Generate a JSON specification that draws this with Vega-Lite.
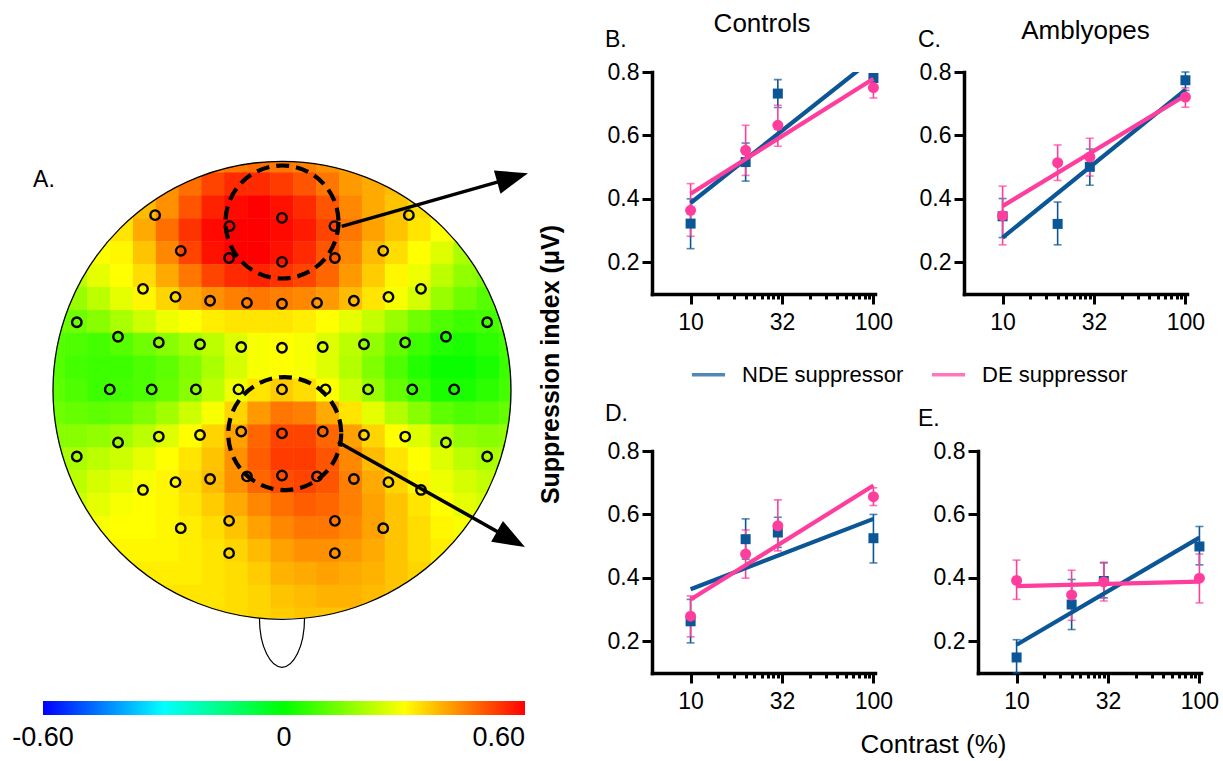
{
"$schema": "https://vega.github.io/schema/vega-lite/v6.json",
"padding": {"left": -28, "top": 11, "right": 0, "bottom": 0},
"config": {
  "view": {"stroke": null},
  "font": "Liberation Sans",
  "axis": {"domainColor": "black", "domainWidth": 3.5, "tickColor": "black", "tickWidth": 3, "tickSize": 10, "labelFontSize": 23, "labelColor": "black", "labelFont": "Liberation Sans", "grid": false, "titleFont": "Liberation Sans", "titleColor": "black", "domainCap": "square"},
  "axisX": {"labelPadding": 7},
  "axisY": {"labelPadding": 3},
  "legend": {"labelFont": "Liberation Sans", "labelColor": "black"}
},
"datasets": {
  "heat": [
{"u":-0.3,"v":1,"z":0.44},{"u":-0.2,"v":1,"z":0.46},{"u":-0.1,"v":1,"z":0.47},{"u":0,"v":1,"z":0.46},{"u":0.1,"v":1,"z":0.45},{"u":0.2,"v":1,"z":0.43},{"u":0.3,"v":1,"z":0.41},
{"u":-0.5,"v":0.9,"z":0.43},{"u":-0.4,"v":0.9,"z":0.47},{"u":-0.3,"v":0.9,"z":0.52},{"u":-0.2,"v":0.9,"z":0.55},{"u":-0.1,"v":0.9,"z":0.55},{"u":0,"v":0.9,"z":0.53},{"u":0.1,"v":0.9,"z":0.5},{"u":0.2,"v":0.9,"z":0.46},{"u":0.3,"v":0.9,"z":0.42},{"u":0.4,"v":0.9,"z":0.4},{"u":0.5,"v":0.9,"z":0.38},
{"u":-0.6,"v":0.8,"z":0.38},{"u":-0.5,"v":0.8,"z":0.43},{"u":-0.4,"v":0.8,"z":0.5},{"u":-0.3,"v":0.8,"z":0.56},{"u":-0.2,"v":0.8,"z":0.59},{"u":-0.1,"v":0.8,"z":0.6},{"u":0,"v":0.8,"z":0.58},{"u":0.1,"v":0.8,"z":0.55},{"u":0.2,"v":0.8,"z":0.5},{"u":0.3,"v":0.8,"z":0.44},{"u":0.4,"v":0.8,"z":0.4},{"u":0.5,"v":0.8,"z":0.37},{"u":0.6,"v":0.8,"z":0.34},
{"u":-0.7,"v":0.7,"z":0.33},{"u":-0.6,"v":0.7,"z":0.4},{"u":-0.5,"v":0.7,"z":0.47},{"u":-0.4,"v":0.7,"z":0.54},{"u":-0.3,"v":0.7,"z":0.59},{"u":-0.2,"v":0.7,"z":0.6},{"u":-0.1,"v":0.7,"z":0.6},{"u":0,"v":0.7,"z":0.59},{"u":0.1,"v":0.7,"z":0.57},{"u":0.2,"v":0.7,"z":0.52},{"u":0.3,"v":0.7,"z":0.46},{"u":0.4,"v":0.7,"z":0.41},{"u":0.5,"v":0.7,"z":0.37},{"u":0.6,"v":0.7,"z":0.33},{"u":0.7,"v":0.7,"z":0.3},
{"u":-0.8,"v":0.6,"z":0.3},{"u":-0.7,"v":0.6,"z":0.31},{"u":-0.6,"v":0.6,"z":0.37},{"u":-0.5,"v":0.6,"z":0.44},{"u":-0.4,"v":0.6,"z":0.52},{"u":-0.3,"v":0.6,"z":0.58},{"u":-0.2,"v":0.6,"z":0.6},{"u":-0.1,"v":0.6,"z":0.6},{"u":0,"v":0.6,"z":0.58},{"u":0.1,"v":0.6,"z":0.55},{"u":0.2,"v":0.6,"z":0.5},{"u":0.3,"v":0.6,"z":0.44},{"u":0.4,"v":0.6,"z":0.38},{"u":0.5,"v":0.6,"z":0.34},{"u":0.6,"v":0.6,"z":0.3},{"u":0.7,"v":0.6,"z":0.26},{"u":0.8,"v":0.6,"z":0.2},
{"u":-0.9,"v":0.5,"z":0.22},{"u":-0.8,"v":0.5,"z":0.27},{"u":-0.7,"v":0.5,"z":0.3},{"u":-0.6,"v":0.5,"z":0.34},{"u":-0.5,"v":0.5,"z":0.4},{"u":-0.4,"v":0.5,"z":0.46},{"u":-0.3,"v":0.5,"z":0.52},{"u":-0.2,"v":0.5,"z":0.55},{"u":-0.1,"v":0.5,"z":0.56},{"u":0,"v":0.5,"z":0.54},{"u":0.1,"v":0.5,"z":0.52},{"u":0.2,"v":0.5,"z":0.48},{"u":0.3,"v":0.5,"z":0.42},{"u":0.4,"v":0.5,"z":0.36},{"u":0.5,"v":0.5,"z":0.31},{"u":0.6,"v":0.5,"z":0.28},{"u":0.7,"v":0.5,"z":0.22},{"u":0.8,"v":0.5,"z":0.17},{"u":0.9,"v":0.5,"z":0.14},
{"u":-0.9,"v":0.4,"z":0.18},{"u":-0.8,"v":0.4,"z":0.22},{"u":-0.7,"v":0.4,"z":0.27},{"u":-0.6,"v":0.4,"z":0.31},{"u":-0.5,"v":0.4,"z":0.35},{"u":-0.4,"v":0.4,"z":0.4},{"u":-0.3,"v":0.4,"z":0.43},{"u":-0.2,"v":0.4,"z":0.45},{"u":-0.1,"v":0.4,"z":0.46},{"u":0,"v":0.4,"z":0.45},{"u":0.1,"v":0.4,"z":0.44},{"u":0.2,"v":0.4,"z":0.42},{"u":0.3,"v":0.4,"z":0.38},{"u":0.4,"v":0.4,"z":0.33},{"u":0.5,"v":0.4,"z":0.29},{"u":0.6,"v":0.4,"z":0.25},{"u":0.7,"v":0.4,"z":0.18},{"u":0.8,"v":0.4,"z":0.13},{"u":0.9,"v":0.4,"z":0.1},
{"u":-1,"v":0.3,"z":0.12},{"u":-0.9,"v":0.3,"z":0.13},{"u":-0.8,"v":0.3,"z":0.16},{"u":-0.7,"v":0.3,"z":0.2},{"u":-0.6,"v":0.3,"z":0.24},{"u":-0.5,"v":0.3,"z":0.28},{"u":-0.4,"v":0.3,"z":0.3},{"u":-0.3,"v":0.3,"z":0.32},{"u":-0.2,"v":0.3,"z":0.33},{"u":-0.1,"v":0.3,"z":0.33},{"u":0,"v":0.3,"z":0.33},{"u":0.1,"v":0.3,"z":0.32},{"u":0.2,"v":0.3,"z":0.3},{"u":0.3,"v":0.3,"z":0.27},{"u":0.4,"v":0.3,"z":0.23},{"u":0.5,"v":0.3,"z":0.18},{"u":0.6,"v":0.3,"z":0.13},{"u":0.7,"v":0.3,"z":0.09},{"u":0.8,"v":0.3,"z":0.07},{"u":0.9,"v":0.3,"z":0.08},{"u":1,"v":0.3,"z":0.1},
{"u":-1,"v":0.2,"z":0.1},{"u":-0.9,"v":0.2,"z":0.09},{"u":-0.8,"v":0.2,"z":0.08},{"u":-0.7,"v":0.2,"z":0.1},{"u":-0.6,"v":0.2,"z":0.13},{"u":-0.5,"v":0.2,"z":0.16},{"u":-0.4,"v":0.2,"z":0.19},{"u":-0.3,"v":0.2,"z":0.22},{"u":-0.2,"v":0.2,"z":0.26},{"u":-0.1,"v":0.2,"z":0.29},{"u":0,"v":0.2,"z":0.3},{"u":0.1,"v":0.2,"z":0.29},{"u":0.2,"v":0.2,"z":0.26},{"u":0.3,"v":0.2,"z":0.22},{"u":0.4,"v":0.2,"z":0.17},{"u":0.5,"v":0.2,"z":0.12},{"u":0.6,"v":0.2,"z":0.07},{"u":0.7,"v":0.2,"z":0.04},{"u":0.8,"v":0.2,"z":0.03},{"u":0.9,"v":0.2,"z":0.05},{"u":1,"v":0.2,"z":0.08},
{"u":-1,"v":0.1,"z":0.1},{"u":-0.9,"v":0.1,"z":0.08},{"u":-0.8,"v":0.1,"z":0.07},{"u":-0.7,"v":0.1,"z":0.07},{"u":-0.6,"v":0.1,"z":0.09},{"u":-0.5,"v":0.1,"z":0.11},{"u":-0.4,"v":0.1,"z":0.15},{"u":-0.3,"v":0.1,"z":0.2},{"u":-0.2,"v":0.1,"z":0.25},{"u":-0.1,"v":0.1,"z":0.29},{"u":0,"v":0.1,"z":0.3},{"u":0.1,"v":0.1,"z":0.29},{"u":0.2,"v":0.1,"z":0.26},{"u":0.3,"v":0.1,"z":0.21},{"u":0.4,"v":0.1,"z":0.15},{"u":0.5,"v":0.1,"z":0.09},{"u":0.6,"v":0.1,"z":0.04},{"u":0.7,"v":0.1,"z":0.01},{"u":0.8,"v":0.1,"z":0.01},{"u":0.9,"v":0.1,"z":0.03},{"u":1,"v":0.1,"z":0.07},
{"u":-1,"v":0,"z":0.11},{"u":-0.9,"v":0,"z":0.09},{"u":-0.8,"v":0,"z":0.07},{"u":-0.7,"v":0,"z":0.08},{"u":-0.6,"v":0,"z":0.09},{"u":-0.5,"v":0,"z":0.12},{"u":-0.4,"v":0,"z":0.16},{"u":-0.3,"v":0,"z":0.22},{"u":-0.2,"v":0,"z":0.28},{"u":-0.1,"v":0,"z":0.33},{"u":0,"v":0,"z":0.36},{"u":0.1,"v":0,"z":0.34},{"u":0.2,"v":0,"z":0.3},{"u":0.3,"v":0,"z":0.24},{"u":0.4,"v":0,"z":0.18},{"u":0.5,"v":0,"z":0.12},{"u":0.6,"v":0,"z":0.07},{"u":0.7,"v":0,"z":0.03},{"u":0.8,"v":0,"z":0.03},{"u":0.9,"v":0,"z":0.05},{"u":1,"v":0,"z":0.08},
{"u":-1,"v":-0.1,"z":0.13},{"u":-0.9,"v":-0.1,"z":0.12},{"u":-0.8,"v":-0.1,"z":0.11},{"u":-0.7,"v":-0.1,"z":0.12},{"u":-0.6,"v":-0.1,"z":0.15},{"u":-0.5,"v":-0.1,"z":0.19},{"u":-0.4,"v":-0.1,"z":0.24},{"u":-0.3,"v":-0.1,"z":0.29},{"u":-0.2,"v":-0.1,"z":0.35},{"u":-0.1,"v":-0.1,"z":0.42},{"u":0,"v":-0.1,"z":0.46},{"u":0.1,"v":-0.1,"z":0.45},{"u":0.2,"v":-0.1,"z":0.4},{"u":0.3,"v":-0.1,"z":0.33},{"u":0.4,"v":-0.1,"z":0.27},{"u":0.5,"v":-0.1,"z":0.21},{"u":0.6,"v":-0.1,"z":0.16},{"u":0.7,"v":-0.1,"z":0.11},{"u":0.8,"v":-0.1,"z":0.09},{"u":0.9,"v":-0.1,"z":0.1},{"u":1,"v":-0.1,"z":0.12},
{"u":-1,"v":-0.2,"z":0.16},{"u":-0.9,"v":-0.2,"z":0.16},{"u":-0.8,"v":-0.2,"z":0.17},{"u":-0.7,"v":-0.2,"z":0.19},{"u":-0.6,"v":-0.2,"z":0.22},{"u":-0.5,"v":-0.2,"z":0.26},{"u":-0.4,"v":-0.2,"z":0.3},{"u":-0.3,"v":-0.2,"z":0.35},{"u":-0.2,"v":-0.2,"z":0.41},{"u":-0.1,"v":-0.2,"z":0.48},{"u":0,"v":-0.2,"z":0.52},{"u":0.1,"v":-0.2,"z":0.52},{"u":0.2,"v":-0.2,"z":0.48},{"u":0.3,"v":-0.2,"z":0.41},{"u":0.4,"v":-0.2,"z":0.35},{"u":0.5,"v":-0.2,"z":0.3},{"u":0.6,"v":-0.2,"z":0.26},{"u":0.7,"v":-0.2,"z":0.21},{"u":0.8,"v":-0.2,"z":0.17},{"u":0.9,"v":-0.2,"z":0.16},{"u":1,"v":-0.2,"z":0.17},
{"u":-1,"v":-0.3,"z":0.19},{"u":-0.9,"v":-0.3,"z":0.2},{"u":-0.8,"v":-0.3,"z":0.22},{"u":-0.7,"v":-0.3,"z":0.24},{"u":-0.6,"v":-0.3,"z":0.27},{"u":-0.5,"v":-0.3,"z":0.3},{"u":-0.4,"v":-0.3,"z":0.33},{"u":-0.3,"v":-0.3,"z":0.37},{"u":-0.2,"v":-0.3,"z":0.43},{"u":-0.1,"v":-0.3,"z":0.49},{"u":0,"v":-0.3,"z":0.53},{"u":0.1,"v":-0.3,"z":0.53},{"u":0.2,"v":-0.3,"z":0.5},{"u":0.3,"v":-0.3,"z":0.44},{"u":0.4,"v":-0.3,"z":0.38},{"u":0.5,"v":-0.3,"z":0.33},{"u":0.6,"v":-0.3,"z":0.3},{"u":0.7,"v":-0.3,"z":0.26},{"u":0.8,"v":-0.3,"z":0.22},{"u":0.9,"v":-0.3,"z":0.2},{"u":1,"v":-0.3,"z":0.2},
{"u":-0.9,"v":-0.4,"z":0.22},{"u":-0.8,"v":-0.4,"z":0.25},{"u":-0.7,"v":-0.4,"z":0.27},{"u":-0.6,"v":-0.4,"z":0.29},{"u":-0.5,"v":-0.4,"z":0.31},{"u":-0.4,"v":-0.4,"z":0.34},{"u":-0.3,"v":-0.4,"z":0.38},{"u":-0.2,"v":-0.4,"z":0.43},{"u":-0.1,"v":-0.4,"z":0.48},{"u":0,"v":-0.4,"z":0.51},{"u":0.1,"v":-0.4,"z":0.52},{"u":0.2,"v":-0.4,"z":0.5},{"u":0.3,"v":-0.4,"z":0.45},{"u":0.4,"v":-0.4,"z":0.4},{"u":0.5,"v":-0.4,"z":0.35},{"u":0.6,"v":-0.4,"z":0.31},{"u":0.7,"v":-0.4,"z":0.28},{"u":0.8,"v":-0.4,"z":0.25},{"u":0.9,"v":-0.4,"z":0.23},
{"u":-0.9,"v":-0.5,"z":0.24},{"u":-0.8,"v":-0.5,"z":0.27},{"u":-0.7,"v":-0.5,"z":0.29},{"u":-0.6,"v":-0.5,"z":0.3},{"u":-0.5,"v":-0.5,"z":0.31},{"u":-0.4,"v":-0.5,"z":0.33},{"u":-0.3,"v":-0.5,"z":0.36},{"u":-0.2,"v":-0.5,"z":0.4},{"u":-0.1,"v":-0.5,"z":0.44},{"u":0,"v":-0.5,"z":0.47},{"u":0.1,"v":-0.5,"z":0.49},{"u":0.2,"v":-0.5,"z":0.48},{"u":0.3,"v":-0.5,"z":0.45},{"u":0.4,"v":-0.5,"z":0.41},{"u":0.5,"v":-0.5,"z":0.37},{"u":0.6,"v":-0.5,"z":0.33},{"u":0.7,"v":-0.5,"z":0.3},{"u":0.8,"v":-0.5,"z":0.27},{"u":0.9,"v":-0.5,"z":0.25},
{"u":-0.8,"v":-0.6,"z":0.29},{"u":-0.7,"v":-0.6,"z":0.3},{"u":-0.6,"v":-0.6,"z":0.3},{"u":-0.5,"v":-0.6,"z":0.31},{"u":-0.4,"v":-0.6,"z":0.32},{"u":-0.3,"v":-0.6,"z":0.34},{"u":-0.2,"v":-0.6,"z":0.37},{"u":-0.1,"v":-0.6,"z":0.41},{"u":0,"v":-0.6,"z":0.44},{"u":0.1,"v":-0.6,"z":0.46},{"u":0.2,"v":-0.6,"z":0.46},{"u":0.3,"v":-0.6,"z":0.44},{"u":0.4,"v":-0.6,"z":0.41},{"u":0.5,"v":-0.6,"z":0.37},{"u":0.6,"v":-0.6,"z":0.34},{"u":0.7,"v":-0.6,"z":0.31},{"u":0.8,"v":-0.6,"z":0.29},
{"u":-0.7,"v":-0.7,"z":0.31},{"u":-0.6,"v":-0.7,"z":0.31},{"u":-0.5,"v":-0.7,"z":0.31},{"u":-0.4,"v":-0.7,"z":0.32},{"u":-0.3,"v":-0.7,"z":0.33},{"u":-0.2,"v":-0.7,"z":0.35},{"u":-0.1,"v":-0.7,"z":0.38},{"u":0,"v":-0.7,"z":0.41},{"u":0.1,"v":-0.7,"z":0.43},{"u":0.2,"v":-0.7,"z":0.43},{"u":0.3,"v":-0.7,"z":0.42},{"u":0.4,"v":-0.7,"z":0.4},{"u":0.5,"v":-0.7,"z":0.37},{"u":0.6,"v":-0.7,"z":0.34},{"u":0.7,"v":-0.7,"z":0.32},
{"u":-0.6,"v":-0.8,"z":0.32},{"u":-0.5,"v":-0.8,"z":0.32},{"u":-0.4,"v":-0.8,"z":0.32},{"u":-0.3,"v":-0.8,"z":0.33},{"u":-0.2,"v":-0.8,"z":0.34},{"u":-0.1,"v":-0.8,"z":0.36},{"u":0,"v":-0.8,"z":0.39},{"u":0.1,"v":-0.8,"z":0.4},{"u":0.2,"v":-0.8,"z":0.41},{"u":0.3,"v":-0.8,"z":0.4},{"u":0.4,"v":-0.8,"z":0.39},{"u":0.5,"v":-0.8,"z":0.37},{"u":0.6,"v":-0.8,"z":0.35},
{"u":-0.5,"v":-0.9,"z":0.33},{"u":-0.4,"v":-0.9,"z":0.33},{"u":-0.3,"v":-0.9,"z":0.33},{"u":-0.2,"v":-0.9,"z":0.34},{"u":-0.1,"v":-0.9,"z":0.35},{"u":0,"v":-0.9,"z":0.37},{"u":0.1,"v":-0.9,"z":0.38},{"u":0.2,"v":-0.9,"z":0.39},{"u":0.3,"v":-0.9,"z":0.39},{"u":0.4,"v":-0.9,"z":0.38},{"u":0.5,"v":-0.9,"z":0.37},
{"u":-0.3,"v":-1,"z":0.34},{"u":-0.2,"v":-1,"z":0.34},{"u":-0.1,"v":-1,"z":0.35},{"u":0,"v":-1,"z":0.36},{"u":0.1,"v":-1,"z":0.37},{"u":0.2,"v":-1,"z":0.37},{"u":0.3,"v":-1,"z":0.37}
  ],
  "elec": [
{"u":-0.554,"v":0.765},{"u":0.554,"v":0.765},{"u":0,"v":0.753},{"u":-0.229,"v":0.717},{"u":0.229,"v":0.717},
{"u":-0.442,"v":0.609},{"u":0.442,"v":0.609},{"u":-0.231,"v":0.578},{"u":0,"v":0.561},{"u":0.231,"v":0.578},
{"u":-0.607,"v":0.443},{"u":-0.465,"v":0.408},{"u":-0.314,"v":0.391},{"u":-0.153,"v":0.382},{"u":0,"v":0.378},{"u":0.153,"v":0.382},{"u":0.314,"v":0.391},{"u":0.465,"v":0.408},{"u":0.607,"v":0.443},
{"u":-0.896,"v":0.297},{"u":-0.716,"v":0.234},{"u":-0.538,"v":0.209},{"u":-0.358,"v":0.201},{"u":-0.178,"v":0.189},{"u":0,"v":0.186},{"u":0.178,"v":0.189},{"u":0.358,"v":0.201},{"u":0.538,"v":0.209},{"u":0.716,"v":0.234},{"u":0.896,"v":0.297},
{"u":-0.752,"v":0.004},{"u":-0.569,"v":0.004},{"u":-0.376,"v":0.004},{"u":-0.19,"v":0.004},{"u":0,"v":0.004},{"u":0.19,"v":0.004},{"u":0.376,"v":0.004},{"u":0.569,"v":0.004},{"u":0.752,"v":0.004},
{"u":-0.896,"v":-0.289},{"u":-0.716,"v":-0.228},{"u":-0.538,"v":-0.202},{"u":-0.358,"v":-0.195},{"u":-0.178,"v":-0.18},{"u":0,"v":-0.188},{"u":0.178,"v":-0.18},{"u":0.358,"v":-0.195},{"u":0.538,"v":-0.202},{"u":0.716,"v":-0.228},{"u":0.896,"v":-0.289},
{"u":-0.607,"v":-0.435},{"u":-0.465,"v":-0.401},{"u":-0.314,"v":-0.387},{"u":-0.153,"v":-0.376},{"u":0,"v":-0.372},{"u":0.153,"v":-0.376},{"u":0.314,"v":-0.387},{"u":0.465,"v":-0.401},{"u":0.607,"v":-0.435},
{"u":-0.442,"v":-0.602},{"u":-0.231,"v":-0.57},{"u":0.231,"v":-0.57},{"u":0.442,"v":-0.602},
{"u":-0.231,"v":-0.711},{"u":0.231,"v":-0.711}
  ],
  "pts": [
{"p":"B","g":"NDE suppressor","c":10,"m":0.322,"lo":0.243,"hi":0.4},
{"p":"B","g":"NDE suppressor","c":20,"m":0.516,"lo":0.456,"hi":0.576},
{"p":"B","g":"NDE suppressor","c":30,"m":0.732,"lo":0.688,"hi":0.776},
{"p":"B","g":"NDE suppressor","c":100,"m":0.781,"lo":0.768,"hi":0.794},
{"p":"B","g":"DE suppressor","c":10,"m":0.364,"lo":0.282,"hi":0.448},
{"p":"B","g":"DE suppressor","c":20,"m":0.553,"lo":0.474,"hi":0.632},
{"p":"B","g":"DE suppressor","c":30,"m":0.632,"lo":0.566,"hi":0.695},
{"p":"B","g":"DE suppressor","c":100,"m":0.751,"lo":0.718,"hi":0.779},
{"p":"C","g":"NDE suppressor","c":10,"m":0.345,"lo":0.278,"hi":0.401},
{"p":"C","g":"NDE suppressor","c":20,"m":0.321,"lo":0.255,"hi":0.39},
{"p":"C","g":"NDE suppressor","c":30,"m":0.501,"lo":0.443,"hi":0.557},
{"p":"C","g":"NDE suppressor","c":100,"m":0.774,"lo":0.742,"hi":0.8},
{"p":"C","g":"DE suppressor","c":10,"m":0.347,"lo":0.255,"hi":0.44},
{"p":"C","g":"DE suppressor","c":20,"m":0.514,"lo":0.458,"hi":0.57},
{"p":"C","g":"DE suppressor","c":30,"m":0.532,"lo":0.472,"hi":0.591},
{"p":"C","g":"DE suppressor","c":100,"m":0.721,"lo":0.689,"hi":0.75},
{"p":"D","g":"NDE suppressor","c":10,"m":0.263,"lo":0.195,"hi":0.332},
{"p":"D","g":"NDE suppressor","c":20,"m":0.522,"lo":0.459,"hi":0.586},
{"p":"D","g":"NDE suppressor","c":30,"m":0.543,"lo":0.496,"hi":0.591},
{"p":"D","g":"NDE suppressor","c":100,"m":0.525,"lo":0.447,"hi":0.6},
{"p":"D","g":"DE suppressor","c":10,"m":0.279,"lo":0.214,"hi":0.343},
{"p":"D","g":"DE suppressor","c":20,"m":0.475,"lo":0.399,"hi":0.551},
{"p":"D","g":"DE suppressor","c":30,"m":0.564,"lo":0.485,"hi":0.646},
{"p":"D","g":"DE suppressor","c":100,"m":0.656,"lo":0.628,"hi":0.684},
{"p":"E","g":"NDE suppressor","c":10,"m":0.149,"lo":0.1,"hi":0.205},
{"p":"E","g":"NDE suppressor","c":20,"m":0.316,"lo":0.237,"hi":0.395},
{"p":"E","g":"NDE suppressor","c":30,"m":0.39,"lo":0.337,"hi":0.448},
{"p":"E","g":"NDE suppressor","c":100,"m":0.499,"lo":0.441,"hi":0.562},
{"p":"E","g":"DE suppressor","c":10,"m":0.392,"lo":0.332,"hi":0.456},
{"p":"E","g":"DE suppressor","c":20,"m":0.346,"lo":0.266,"hi":0.424},
{"p":"E","g":"DE suppressor","c":30,"m":0.387,"lo":0.327,"hi":0.448},
{"p":"E","g":"DE suppressor","c":100,"m":0.399,"lo":0.321,"hi":0.475}
  ],
  "fit": [
{"p":"B","g":"NDE suppressor","c":10,"y":0.387},{"p":"B","g":"NDE suppressor","c":100,"y":0.843},
{"p":"B","g":"DE suppressor","c":10,"y":0.416},{"p":"B","g":"DE suppressor","c":100,"y":0.779},
{"p":"C","g":"NDE suppressor","c":10,"y":0.278},{"p":"C","g":"NDE suppressor","c":100,"y":0.744},
{"p":"C","g":"DE suppressor","c":10,"y":0.377},{"p":"C","g":"DE suppressor","c":100,"y":0.726},
{"p":"D","g":"NDE suppressor","c":10,"y":0.364},{"p":"D","g":"NDE suppressor","c":100,"y":0.586},
{"p":"D","g":"DE suppressor","c":10,"y":0.332},{"p":"D","g":"DE suppressor","c":100,"y":0.691},
{"p":"E","g":"NDE suppressor","c":10,"y":0.189},{"p":"E","g":"NDE suppressor","c":100,"y":0.527},
{"p":"E","g":"DE suppressor","c":10,"y":0.374},{"p":"E","g":"DE suppressor","c":100,"y":0.388}
  ]
},
"bounds": "flush",
"spacing": 92,
"hconcat": [
{
  "width": 560, "height": 689,
  "layer": [
    {"data": {"name": "heat"},
     "mark": {"type": "square", "size": 548, "opacity": 1, "strokeWidth": 0},
     "encoding": {
       "x": {"field": "u", "type": "quantitative", "scale": {"domain": [-1.2314, 1.214], "nice": false}, "axis": null},
       "y": {"field": "v", "type": "quantitative", "scale": {"domain": [-1.6187, 1.39], "nice": false}, "axis": null},
       "fill": {"field": "z", "type": "quantitative",
         "scale": {"domain": [-0.6, -0.3, 0, 0.3, 0.6], "range": ["#0000ff", "#00ffff", "#00ff00", "#ffff00", "#ff0000"], "interpolate": "rgb"},
         "legend": {"orient": "none", "legendX": 43, "legendY": 629, "direction": "horizontal", "title": null, "gradientLength": 482, "gradientThickness": 14, "values": [-0.5999, 0, 0.6], "labelExpr": "datum.value < 0 ? '-0.60' : datum.value > 0 ? '0.60' : '0'", "labelFontSize": 27, "labelOffset": 10, "gradientStrokeWidth": 0}}
     }},
    {"data": {"values": [{"u": 0, "v": 0}]},
     "mark": {"type": "point", "shape": "circle", "size": 240100, "filled": false, "stroke": "white", "strokeWidth": 32, "opacity": 1},
     "encoding": {"x": {"field": "u", "type": "quantitative", "scale": {"domain": [-1.2314, 1.214], "nice": false}, "axis": null}, "y": {"field": "v", "type": "quantitative", "scale": {"domain": [-1.6187, 1.39], "nice": false}, "axis": null}}},
    {"data": {"values": [{"u": 0, "v": -1.1026}]},
     "mark": {"type": "point", "shape": "M-0.92,-1C-0.92,0.2,-0.45,1,0,1C0.45,1,0.92,0.2,0.92,-1", "size": 2401, "filled": true, "fill": "white", "stroke": "black", "strokeWidth": 1.2, "opacity": 1},
     "encoding": {"x": {"field": "u", "type": "quantitative", "scale": {"domain": [-1.2314, 1.214], "nice": false}, "axis": null}, "y": {"field": "v", "type": "quantitative", "scale": {"domain": [-1.6187, 1.39], "nice": false}, "axis": null}}},
    {"data": {"values": [{"u": 0, "v": 0}]},
     "mark": {"type": "point", "shape": "circle", "size": 209764, "filled": false, "stroke": "black", "strokeWidth": 1.3, "opacity": 1},
     "encoding": {"x": {"field": "u", "type": "quantitative", "scale": {"domain": [-1.2314, 1.214], "nice": false}, "axis": null}, "y": {"field": "v", "type": "quantitative", "scale": {"domain": [-1.6187, 1.39], "nice": false}, "axis": null}}},
    {"data": {"name": "elec"},
     "mark": {"type": "point", "shape": "circle", "size": 90, "filled": false, "stroke": "black", "strokeWidth": 2.4, "opacity": 1},
     "encoding": {"x": {"field": "u", "type": "quantitative", "scale": {"domain": [-1.2314, 1.214], "nice": false}, "axis": null}, "y": {"field": "v", "type": "quantitative", "scale": {"domain": [-1.6187, 1.39], "nice": false}, "axis": null}}},
    {"data": {"values": [{"u": 0, "v": 0.735}, {"u": 0.012, "v": -0.189}]},
     "mark": {"type": "point", "shape": "circle", "size": 12769, "filled": false, "stroke": "black", "strokeWidth": 4.2, "strokeDash": [13, 7], "opacity": 1},
     "encoding": {"x": {"field": "u", "type": "quantitative", "scale": {"domain": [-1.2314, 1.214], "nice": false}, "axis": null}, "y": {"field": "v", "type": "quantitative", "scale": {"domain": [-1.6187, 1.39], "nice": false}, "axis": null}}},
    {"data": {"values": [{"u": 0.2607, "v": 0.716, "u2": 1.007, "v2": 0.9284}, {"u": 0.2445, "v": -0.2258, "u2": 1.0, "v2": -0.6502}]},
     "mark": {"type": "rule", "strokeWidth": 3.5, "color": "black"},
     "encoding": {"x": {"field": "u", "type": "quantitative", "scale": {"domain": [-1.2314, 1.214], "nice": false}, "axis": null}, "y": {"field": "v", "type": "quantitative", "scale": {"domain": [-1.6187, 1.39], "nice": false}, "axis": null}, "x2": {"field": "u2"}, "y2": {"field": "v2"}}},
    {"data": {"values": [{"u": 1.007, "v": 0.9284, "a": 74.1}, {"u": 1.0, "v": -0.6502, "a": 119.3}]},
     "mark": {"type": "point", "shape": "M0,-1L0.75,1L-0.75,1Z", "size": 1024, "filled": true, "fill": "black", "strokeWidth": 0, "opacity": 1},
     "encoding": {"x": {"field": "u", "type": "quantitative", "scale": {"domain": [-1.2314, 1.214], "nice": false}, "axis": null}, "y": {"field": "v", "type": "quantitative", "scale": {"domain": [-1.6187, 1.39], "nice": false}, "axis": null}, "angle": {"field": "a", "type": "quantitative", "scale": null}}},
    {"data": {"values": [{}]},
     "mark": {"type": "text", "text": "A.", "align": "left", "baseline": "alphabetic", "fontSize": 23, "color": "black"},
     "encoding": {"x": {"datum": -1.087, "type": "quantitative", "scale": {"domain": [-1.2314, 1.214], "nice": false}, "axis": null}, "y": {"datum": 0.8865, "type": "quantitative", "scale": {"domain": [-1.6187, 1.39], "nice": false}, "axis": null}}}
  ]
},
{
  "vconcat": [
    {"hconcat": [
      {"width": 223, "height": 222,
       "layer": [
        {"data": {"name": "pts"}, "transform": [{"filter": "datum.p == 'B'"}],
         "mark": {"type": "errorbar", "ticks": true, "size": 8, "thickness": 1.6},
         "encoding": {"x": {"field": "c", "type": "quantitative", "scale": {"type": "log", "domain": [6.15, 102], "nice": false}},
           "y": {"field": "lo", "type": "quantitative", "scale": {"domain": [0.1, 0.8], "nice": false, "zero": false},
             "axis": {"values": [0.2, 0.4, 0.6, 0.8], "format": ".1f", "title": "Suppression index (μV)", "titleX": -94, "titleY": 292, "titleAngle": 270, "titleAlign": "center", "titleBaseline": "alphabetic", "titleFontSize": 25, "titleFontWeight": "bold"}},
           "y2": {"field": "hi"},
           "color": {"field": "g", "type": "nominal", "scale": {"domain": ["NDE suppressor", "DE suppressor"], "range": ["#0b5697", "#ff3d9d"]},
             "legend": {"orient": "none", "legendX": 690, "legendY": 284, "direction": "horizontal", "title": null, "symbolType": "stroke", "symbolSize": 1100, "symbolStrokeWidth": 3.5, "labelFontSize": 22, "labelOffset": 15, "columnPadding": 20, "labelLimit": 400}}}},
        {"data": {"name": "pts"}, "transform": [{"filter": "datum.p == 'B' && datum.g == 'NDE suppressor'"}],
         "mark": {"type": "square", "size": 100, "color": "#0b5697", "opacity": 1},
         "encoding": {"x": {"field": "c", "type": "quantitative", "scale": {"type": "log", "domain": [6.15, 102], "nice": false}}, "y": {"field": "m", "type": "quantitative", "scale": {"domain": [0.1, 0.8], "nice": false, "zero": false}}}},
        {"data": {"name": "fit"}, "transform": [{"filter": "datum.p == 'B'"}],
         "mark": {"type": "line", "strokeWidth": 4.2, "clip": true, "strokeCap": "butt"},
         "encoding": {
           "x": {"field": "c", "type": "quantitative", "scale": {"type": "log", "domain": [6.15, 102], "nice": false},
             "axis": {"values": [10, 14.142, 17.321, 20, 22.361, 24.495, 26.458, 28.284, 30, 31.623, 44.721, 54.772, 63.246, 70.711, 77.46, 83.666, 89.443, 94.868, 100], "labelExpr": "datum.value == 10 ? '10' : datum.value == 100 ? '100' : abs(datum.value - 31.623) < 0.01 ? '32' : ''", "tickSize": {"condition": {"test": "datum.value == 10 || datum.value == 100 || abs(datum.value - 31.623) < 0.01", "value": 10}, "value": 5}, "labelOverlap": false, "title": null}},
           "y": {"field": "y", "type": "quantitative", "scale": {"domain": [0.1, 0.8], "nice": false, "zero": false},
             "axis": {"values": [0.2, 0.4, 0.6, 0.8], "format": ".1f", "title": "Suppression index (μV)", "titleX": -94, "titleY": 292, "titleAngle": 270, "titleAlign": "center", "titleBaseline": "alphabetic", "titleFontSize": 25, "titleFontWeight": "bold"}},
           "color": {"field": "g", "type": "nominal", "scale": {"domain": ["NDE suppressor", "DE suppressor"], "range": ["#0b5697", "#ff3d9d"]},
             "legend": {"orient": "none", "legendX": 690, "legendY": 284, "direction": "horizontal", "title": null, "symbolType": "stroke", "symbolSize": 1100, "symbolStrokeWidth": 3.5, "labelFontSize": 22, "labelOffset": 15, "columnPadding": 20, "labelLimit": 400}}}},
        {"data": {"name": "pts"}, "transform": [{"filter": "datum.p == 'B' && datum.g == 'DE suppressor'"}],
         "mark": {"type": "circle", "size": 121, "color": "#ff3d9d", "opacity": 1},
         "encoding": {"x": {"field": "c", "type": "quantitative", "scale": {"type": "log", "domain": [6.15, 102], "nice": false}}, "y": {"field": "m", "type": "quantitative", "scale": {"domain": [0.1, 0.8], "nice": false, "zero": false}}}},
        {"data": {"values": [{}]},
         "mark": {"type": "text", "text": "B.", "align": "left", "baseline": "alphabetic", "fontSize": 23, "color": "black"},
         "encoding": {"x": {"datum": 3.4, "type": "quantitative", "scale": {"type": "log", "domain": [6.15, 102], "nice": false}}, "y": {"datum": 0.878, "type": "quantitative", "scale": {"domain": [0.1, 0.8], "nice": false, "zero": false}}}},
        {"data": {"values": [{}]},
         "mark": {"type": "text", "text": "Controls", "align": "center", "baseline": "alphabetic", "fontSize": 26, "color": "black"},
         "encoding": {"x": {"datum": 24.58, "type": "quantitative", "scale": {"type": "log", "domain": [6.15, 102], "nice": false}}, "y": {"datum": 0.926, "type": "quantitative", "scale": {"domain": [0.1, 0.8], "nice": false, "zero": false}}}}
       ]},
      {"width": 223, "height": 222,
       "layer": [
        {"data": {"name": "pts"}, "transform": [{"filter": "datum.p == 'C'"}],
         "mark": {"type": "errorbar", "ticks": true, "size": 8, "thickness": 1.6},
         "encoding": {"x": {"field": "c", "type": "quantitative", "scale": {"type": "log", "domain": [6.15, 102], "nice": false}},
           "y": {"field": "lo", "type": "quantitative", "scale": {"domain": [0.1, 0.8], "nice": false, "zero": false}, "axis": {"values": [0.2, 0.4, 0.6, 0.8], "format": ".1f", "title": null}},
           "y2": {"field": "hi"},
           "color": {"field": "g", "type": "nominal", "scale": {"domain": ["NDE suppressor", "DE suppressor"], "range": ["#0b5697", "#ff3d9d"]},
             "legend": {"orient": "none", "legendX": 690, "legendY": 284, "direction": "horizontal", "title": null, "symbolType": "stroke", "symbolSize": 1100, "symbolStrokeWidth": 3.5, "labelFontSize": 22, "labelOffset": 15, "columnPadding": 20, "labelLimit": 400}}}},
        {"data": {"name": "pts"}, "transform": [{"filter": "datum.p == 'C' && datum.g == 'NDE suppressor'"}],
         "mark": {"type": "square", "size": 100, "color": "#0b5697", "opacity": 1},
         "encoding": {"x": {"field": "c", "type": "quantitative", "scale": {"type": "log", "domain": [6.15, 102], "nice": false}}, "y": {"field": "m", "type": "quantitative", "scale": {"domain": [0.1, 0.8], "nice": false, "zero": false}}}},
        {"data": {"name": "fit"}, "transform": [{"filter": "datum.p == 'C'"}],
         "mark": {"type": "line", "strokeWidth": 4.2, "clip": true, "strokeCap": "butt"},
         "encoding": {
           "x": {"field": "c", "type": "quantitative", "scale": {"type": "log", "domain": [6.15, 102], "nice": false},
             "axis": {"values": [10, 14.142, 17.321, 20, 22.361, 24.495, 26.458, 28.284, 30, 31.623, 44.721, 54.772, 63.246, 70.711, 77.46, 83.666, 89.443, 94.868, 100], "labelExpr": "datum.value == 10 ? '10' : datum.value == 100 ? '100' : abs(datum.value - 31.623) < 0.01 ? '32' : ''", "tickSize": {"condition": {"test": "datum.value == 10 || datum.value == 100 || abs(datum.value - 31.623) < 0.01", "value": 10}, "value": 5}, "labelOverlap": false, "title": null}},
           "y": {"field": "y", "type": "quantitative", "scale": {"domain": [0.1, 0.8], "nice": false, "zero": false},
             "axis": {"values": [0.2, 0.4, 0.6, 0.8], "format": ".1f", "title": null}},
           "color": {"field": "g", "type": "nominal", "scale": {"domain": ["NDE suppressor", "DE suppressor"], "range": ["#0b5697", "#ff3d9d"]},
             "legend": {"orient": "none", "legendX": 690, "legendY": 284, "direction": "horizontal", "title": null, "symbolType": "stroke", "symbolSize": 1100, "symbolStrokeWidth": 3.5, "labelFontSize": 22, "labelOffset": 15, "columnPadding": 20, "labelLimit": 400}}}},
        {"data": {"name": "pts"}, "transform": [{"filter": "datum.p == 'C' && datum.g == 'DE suppressor'"}],
         "mark": {"type": "circle", "size": 121, "color": "#ff3d9d", "opacity": 1},
         "encoding": {"x": {"field": "c", "type": "quantitative", "scale": {"type": "log", "domain": [6.15, 102], "nice": false}}, "y": {"field": "m", "type": "quantitative", "scale": {"domain": [0.1, 0.8], "nice": false, "zero": false}}}},
        {"data": {"values": [{}]},
         "mark": {"type": "text", "text": "C.", "align": "left", "baseline": "alphabetic", "fontSize": 23, "color": "black"},
         "encoding": {"x": {"datum": 3.445, "type": "quantitative", "scale": {"type": "log", "domain": [6.15, 102], "nice": false}}, "y": {"datum": 0.878, "type": "quantitative", "scale": {"domain": [0.1, 0.8], "nice": false, "zero": false}}}},
        {"data": {"values": [{}]},
         "mark": {"type": "text", "text": "Amblyopes", "align": "center", "baseline": "alphabetic", "fontSize": 26, "color": "black"},
         "encoding": {"x": {"datum": 28.41, "type": "quantitative", "scale": {"type": "log", "domain": [6.15, 102], "nice": false}}, "y": {"datum": 0.903, "type": "quantitative", "scale": {"domain": [0.1, 0.8], "nice": false, "zero": false}}}}
       ]}
    ], "spacing": 89, "bounds": "flush"},
    {"hconcat": [
      {"width": 223, "height": 222,
       "layer": [
        {"data": {"name": "pts"}, "transform": [{"filter": "datum.p == 'D'"}],
         "mark": {"type": "errorbar", "ticks": true, "size": 8, "thickness": 1.6},
         "encoding": {"x": {"field": "c", "type": "quantitative", "scale": {"type": "log", "domain": [6.15, 102], "nice": false}},
           "y": {"field": "lo", "type": "quantitative", "scale": {"domain": [0.1, 0.8], "nice": false, "zero": false}, "axis": {"values": [0.2, 0.4, 0.6, 0.8], "format": ".1f", "title": null}},
           "y2": {"field": "hi"},
           "color": {"field": "g", "type": "nominal", "scale": {"domain": ["NDE suppressor", "DE suppressor"], "range": ["#0b5697", "#ff3d9d"]},
             "legend": {"orient": "none", "legendX": 690, "legendY": 284, "direction": "horizontal", "title": null, "symbolType": "stroke", "symbolSize": 1100, "symbolStrokeWidth": 3.5, "labelFontSize": 22, "labelOffset": 15, "columnPadding": 20, "labelLimit": 400}}}},
        {"data": {"name": "pts"}, "transform": [{"filter": "datum.p == 'D' && datum.g == 'NDE suppressor'"}],
         "mark": {"type": "square", "size": 100, "color": "#0b5697", "opacity": 1},
         "encoding": {"x": {"field": "c", "type": "quantitative", "scale": {"type": "log", "domain": [6.15, 102], "nice": false}}, "y": {"field": "m", "type": "quantitative", "scale": {"domain": [0.1, 0.8], "nice": false, "zero": false}}}},
        {"data": {"name": "fit"}, "transform": [{"filter": "datum.p == 'D'"}],
         "mark": {"type": "line", "strokeWidth": 4.2, "clip": true, "strokeCap": "butt"},
         "encoding": {
           "x": {"field": "c", "type": "quantitative", "scale": {"type": "log", "domain": [6.15, 102], "nice": false},
             "axis": {"values": [10, 14.142, 17.321, 20, 22.361, 24.495, 26.458, 28.284, 30, 31.623, 44.721, 54.772, 63.246, 70.711, 77.46, 83.666, 89.443, 94.868, 100], "labelExpr": "datum.value == 10 ? '10' : datum.value == 100 ? '100' : abs(datum.value - 31.623) < 0.01 ? '32' : ''", "tickSize": {"condition": {"test": "datum.value == 10 || datum.value == 100 || abs(datum.value - 31.623) < 0.01", "value": 10}, "value": 5}, "labelOverlap": false, "title": "Contrast (%)", "titleX": 281, "titleY": 79, "titleAlign": "center", "titleBaseline": "alphabetic", "titleFontSize": 26, "titleFontWeight": "normal"}},
           "y": {"field": "y", "type": "quantitative", "scale": {"domain": [0.1, 0.8], "nice": false, "zero": false},
             "axis": {"values": [0.2, 0.4, 0.6, 0.8], "format": ".1f", "title": null}},
           "color": {"field": "g", "type": "nominal", "scale": {"domain": ["NDE suppressor", "DE suppressor"], "range": ["#0b5697", "#ff3d9d"]},
             "legend": {"orient": "none", "legendX": 690, "legendY": 284, "direction": "horizontal", "title": null, "symbolType": "stroke", "symbolSize": 1100, "symbolStrokeWidth": 3.5, "labelFontSize": 22, "labelOffset": 15, "columnPadding": 20, "labelLimit": 400}}}},
        {"data": {"name": "pts"}, "transform": [{"filter": "datum.p == 'D' && datum.g == 'DE suppressor'"}],
         "mark": {"type": "circle", "size": 121, "color": "#ff3d9d", "opacity": 1},
         "encoding": {"x": {"field": "c", "type": "quantitative", "scale": {"type": "log", "domain": [6.15, 102], "nice": false}}, "y": {"field": "m", "type": "quantitative", "scale": {"domain": [0.1, 0.8], "nice": false, "zero": false}}}},
        {"data": {"values": [{}]},
         "mark": {"type": "text", "text": "D.", "align": "left", "baseline": "alphabetic", "fontSize": 23, "color": "black"},
         "encoding": {"x": {"datum": 3.4, "type": "quantitative", "scale": {"type": "log", "domain": [6.15, 102], "nice": false}}, "y": {"datum": 0.8937, "type": "quantitative", "scale": {"domain": [0.1, 0.8], "nice": false, "zero": false}}}}
       ]},
      {"width": 223, "height": 222,
       "layer": [
        {"data": {"name": "pts"}, "transform": [{"filter": "datum.p == 'E'"}],
         "mark": {"type": "errorbar", "ticks": true, "size": 8, "thickness": 1.6},
         "encoding": {"x": {"field": "c", "type": "quantitative", "scale": {"type": "log", "domain": [6.15, 102], "nice": false}},
           "y": {"field": "lo", "type": "quantitative", "scale": {"domain": [0.1, 0.8], "nice": false, "zero": false}, "axis": {"values": [0.2, 0.4, 0.6, 0.8], "format": ".1f", "title": null}},
           "y2": {"field": "hi"},
           "color": {"field": "g", "type": "nominal", "scale": {"domain": ["NDE suppressor", "DE suppressor"], "range": ["#0b5697", "#ff3d9d"]},
             "legend": {"orient": "none", "legendX": 690, "legendY": 284, "direction": "horizontal", "title": null, "symbolType": "stroke", "symbolSize": 1100, "symbolStrokeWidth": 3.5, "labelFontSize": 22, "labelOffset": 15, "columnPadding": 20, "labelLimit": 400}}}},
        {"data": {"name": "pts"}, "transform": [{"filter": "datum.p == 'E' && datum.g == 'NDE suppressor'"}],
         "mark": {"type": "square", "size": 100, "color": "#0b5697", "opacity": 1},
         "encoding": {"x": {"field": "c", "type": "quantitative", "scale": {"type": "log", "domain": [6.15, 102], "nice": false}}, "y": {"field": "m", "type": "quantitative", "scale": {"domain": [0.1, 0.8], "nice": false, "zero": false}}}},
        {"data": {"name": "fit"}, "transform": [{"filter": "datum.p == 'E'"}],
         "mark": {"type": "line", "strokeWidth": 4.2, "clip": true, "strokeCap": "butt"},
         "encoding": {
           "x": {"field": "c", "type": "quantitative", "scale": {"type": "log", "domain": [6.15, 102], "nice": false},
             "axis": {"values": [10, 14.142, 17.321, 20, 22.361, 24.495, 26.458, 28.284, 30, 31.623, 44.721, 54.772, 63.246, 70.711, 77.46, 83.666, 89.443, 94.868, 100], "labelExpr": "datum.value == 10 ? '10' : datum.value == 100 ? '100' : abs(datum.value - 31.623) < 0.01 ? '32' : ''", "tickSize": {"condition": {"test": "datum.value == 10 || datum.value == 100 || abs(datum.value - 31.623) < 0.01", "value": 10}, "value": 5}, "labelOverlap": false, "title": null}},
           "y": {"field": "y", "type": "quantitative", "scale": {"domain": [0.1, 0.8], "nice": false, "zero": false},
             "axis": {"values": [0.2, 0.4, 0.6, 0.8], "format": ".1f", "title": null}},
           "color": {"field": "g", "type": "nominal", "scale": {"domain": ["NDE suppressor", "DE suppressor"], "range": ["#0b5697", "#ff3d9d"]},
             "legend": {"orient": "none", "legendX": 690, "legendY": 284, "direction": "horizontal", "title": null, "symbolType": "stroke", "symbolSize": 1100, "symbolStrokeWidth": 3.5, "labelFontSize": 22, "labelOffset": 15, "columnPadding": 20, "labelLimit": 400}}}},
        {"data": {"name": "pts"}, "transform": [{"filter": "datum.p == 'E' && datum.g == 'DE suppressor'"}],
         "mark": {"type": "circle", "size": 121, "color": "#ff3d9d", "opacity": 1},
         "encoding": {"x": {"field": "c", "type": "quantitative", "scale": {"type": "log", "domain": [6.15, 102], "nice": false}}, "y": {"field": "m", "type": "quantitative", "scale": {"domain": [0.1, 0.8], "nice": false, "zero": false}}}},
        {"data": {"values": [{}]},
         "mark": {"type": "text", "text": "E.", "align": "left", "baseline": "alphabetic", "fontSize": 23, "color": "black"},
         "encoding": {"x": {"datum": 2.889, "type": "quantitative", "scale": {"type": "log", "domain": [6.15, 102], "nice": false}}, "y": {"datum": 0.878, "type": "quantitative", "scale": {"domain": [0.1, 0.8], "nice": false, "zero": false}}}}
       ]}
    ], "spacing": 103, "bounds": "flush"}
  ],
  "spacing": 379, "bounds": "flush"
}
]
}
